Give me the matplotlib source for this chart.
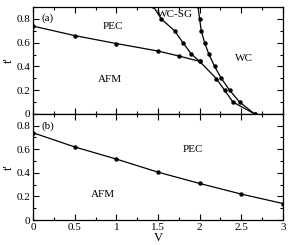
import matplotlib
matplotlib.use("Agg")
import matplotlib.pyplot as plt
from matplotlib.ticker import MultipleLocator

plt.rcParams['font.family'] = ['Liberation Serif', 'DejaVu Serif']
plt.rcParams['font.size'] = 8

# Panel (a) data
afm_pec_V = [0.0, 0.5, 1.0, 1.5, 1.75, 2.0]
afm_pec_t = [0.74, 0.66, 0.593, 0.53, 0.488, 0.443]

sg_left_V = [1.44, 1.54, 1.70, 1.80, 1.90, 2.0, 2.20, 2.30, 2.40, 2.66]
sg_left_t = [0.91, 0.80, 0.70, 0.60, 0.505, 0.443, 0.298, 0.20, 0.10, 0.0]

sg_right_V = [1.98, 2.0, 2.02, 2.06, 2.11, 2.18, 2.26, 2.36, 2.48, 2.66]
sg_right_t = [0.91, 0.80, 0.70, 0.60, 0.505, 0.40, 0.30, 0.20, 0.10, 0.0]

# Panel (b) data
b_V = [0.0, 0.5, 1.0, 1.5, 2.0, 2.5, 3.0]
b_t = [0.74, 0.62, 0.517, 0.406, 0.31, 0.22, 0.14]

x_ticks = [0, 0.5, 1, 1.5, 2, 2.5, 3]
x_ticklabels = ['0', '0.5', '1', '1.5', '2', '2.5', '3']
y_ticks = [0, 0.2, 0.4, 0.6, 0.8]
y_ticklabels = ['0', '0.2', '0.4', '0.6', '0.8']

fig = plt.figure(figsize=(2.95, 2.45), dpi=100)
left, right = 0.112, 0.959
top, mid, bot = 0.971, 0.535, 0.102
ax1 = fig.add_axes([left, mid, right - left, top - mid])
ax2 = fig.add_axes([left, bot, right - left, mid - bot])

kw = dict(color='black', lw=0.9, marker='o', ms=2.2, clip_on=True)
ax1.plot(afm_pec_V, afm_pec_t, **kw)
ax1.plot(sg_left_V, sg_left_t, **kw)
ax1.plot(sg_right_V, sg_right_t, **kw)
ax2.plot(b_V, b_t, **kw)

for ax in (ax1, ax2):
    ax.set_xlim(0, 3)
    ax.set_ylim(0, 0.9)
    ax.set_xticks(x_ticks)
    ax.set_xticklabels(x_ticklabels)
    ax.xaxis.set_minor_locator(MultipleLocator(0.25))
    ax.set_yticks(y_ticks)
    ax.set_yticklabels(y_ticklabels)
    ax.yaxis.set_minor_locator(MultipleLocator(0.1))
    ax.tick_params(which='both', direction='in', top=True, right=True,
                   labelsize=8, width=0.8, pad=2)
    ax.tick_params(which='major', length=4)
    ax.tick_params(which='minor', length=2)
    for s in ax.spines.values():
        s.set_linewidth(0.9)
    ax.set_ylabel("t'", fontsize=9, labelpad=1)

ax1.tick_params(labelbottom=False)
ax2.set_xlabel('V', fontsize=9, labelpad=0)

ax1.text(0.1, 0.81, '(a)', fontsize=8, va='center', ha='left')
ax1.text(0.96, 0.74, 'PEC', fontsize=8, va='center', ha='center')
ax1.text(0.92, 0.29, 'AFM', fontsize=8, va='center', ha='center')
ax1.text(1.70, 0.84, 'WC-SG', fontsize=8, va='center', ha='center')
ax1.text(2.53, 0.465, 'WC', fontsize=8, va='center', ha='center')

ax2.text(0.1, 0.80, '(b)', fontsize=8, va='center', ha='left')
ax2.text(1.92, 0.60, 'PEC', fontsize=8, va='center', ha='center')
ax2.text(0.84, 0.22, 'AFM', fontsize=8, va='center', ha='center')

fig.savefig('out.png', dpi=100)
